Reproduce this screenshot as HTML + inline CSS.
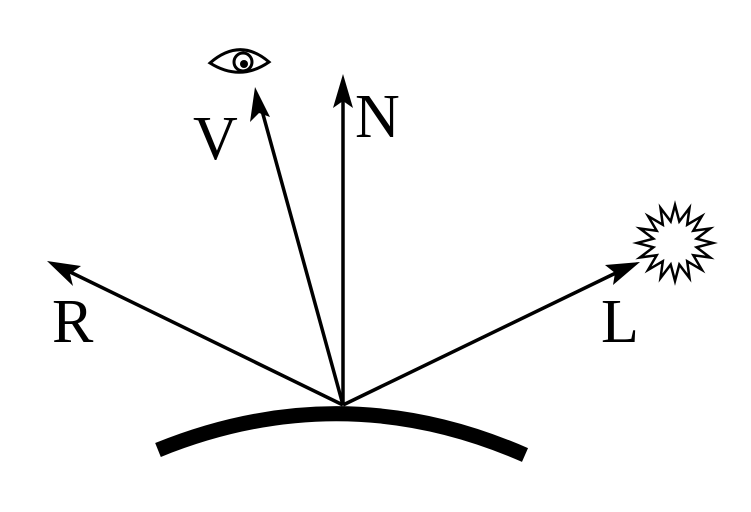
<!DOCTYPE html>
<html><head><meta charset="utf-8"><style>
html,body{margin:0;padding:0;background:#fff;}
svg{display:block}
text{font-family:"Liberation Serif",serif;font-size:62px;fill:#000}
</style></head><body>
<svg width="751" height="512" viewBox="0 0 751 512">
<path d="M158 450 Q343 375 525 455" stroke="#000" stroke-width="15" fill="none"/>
<g stroke="#000" stroke-width="3.5" fill="none">
<line x1="343" y1="405" x2="343" y2="95"/>
<line x1="343" y1="405" x2="261" y2="107"/>
<line x1="343" y1="405" x2="66" y2="270"/>
<line x1="343" y1="405" x2="622" y2="270"/>
</g>
<g fill="#000">
<polygon points="343,74 333,108 343,101 353,108"/>
<polygon points="255,87 250,122 259,113 270,117"/>
<polygon points="47,261 73,286 70,274 81,266"/>
<polygon points="640,262 605,265 615,273 613,285"/>
</g>
<g stroke="#000" stroke-width="3" fill="none">
<path d="M210 63 Q240 37 269 62 Q240 82 210 63 Z"/>
<circle cx="243" cy="62" r="9"/>
</g>
<circle cx="244" cy="64" r="4" fill="#000"/>
<polygon id="star" fill="#fff" stroke="#000" stroke-width="2.5" points=""/>
<script>
(function(){var cx=675,cy=243,R=38,r=22,n=16,p=[];for(var i=0;i<2*n;i++){var ang=Math.PI*i/n-Math.PI/2;var rr=i%2?r:R;p.push((cx+rr*Math.cos(ang)).toFixed(1)+","+(cy+rr*Math.sin(ang)).toFixed(1));}document.getElementById("star").setAttribute("points",p.join(" "));})();
</script>
<text x="193" y="159">V</text>
<text x="355" y="137">N</text>
<text x="52" y="342">R</text>
<text x="601" y="342">L</text>
</svg>
</body></html>
